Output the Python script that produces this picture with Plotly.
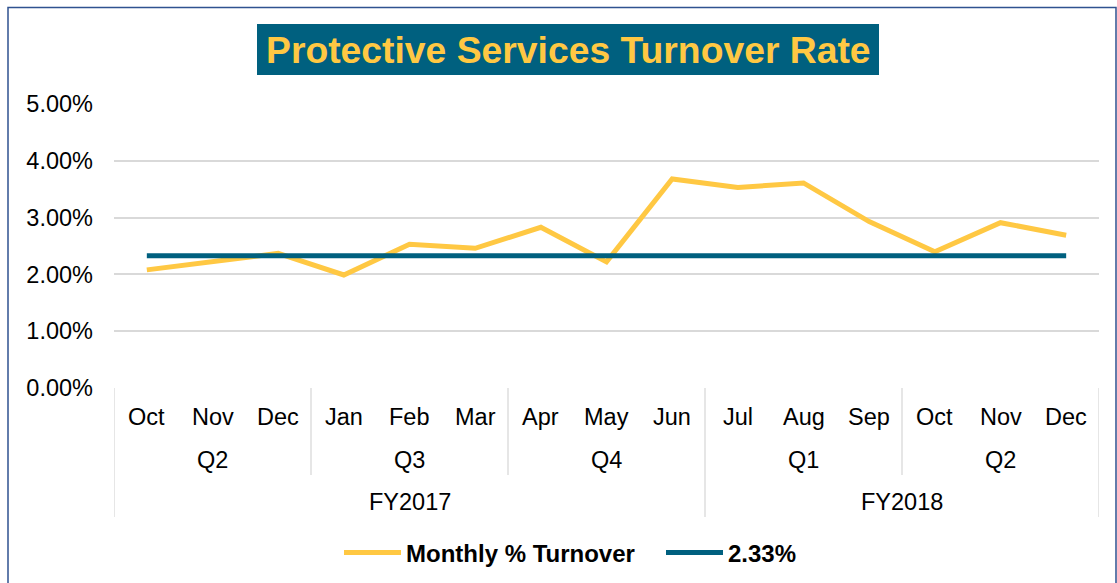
import plotly.graph_objects as go

months = ["Oct", "Nov", "Dec", "Jan", "Feb", "Mar", "Apr", "May", "Jun",
          "Jul", "Aug", "Sep", "Oct", "Nov", "Dec"]
quarters = ["Q2", "Q2", "Q2", "Q3", "Q3", "Q3", "Q4", "Q4", "Q4",
            "Q1", "Q1", "Q1", "Q2", "Q2", "Q2"]
fiscal_years = ["FY2017"] * 9 + ["FY2018"] * 6
turnover = [2.08, 2.22, 2.37, 1.99, 2.53, 2.46, 2.83, 2.22, 3.68,
            3.53, 3.61, 2.93, 2.40, 2.91, 2.69]
average = [2.33] * 15

YELLOW = "#FFC843"
TEAL = "#00607F"
GRID = "#D9D9D9"
FONT = "Liberation Sans, Arial, sans-serif"
AX = 23.5

x = list(range(len(months)))

fig = go.Figure()
fig.add_trace(go.Scatter(x=x, y=turnover, mode="lines", name="<b>Monthly % Turnover</b>",
                         line=dict(color=YELLOW, width=5)))
fig.add_trace(go.Scatter(x=x, y=average, mode="lines", name="<b>2.33%</b>",
                         line=dict(color=TEAL, width=5)))

W, H = 1117, 583
L, R, T, B = 114, 18, 104, 195
pw, ph = W - L - R, H - T - B

def px_x(p):
    return (p - L) / pw

def px_y(p):
    return (H - B - p) / ph

annotations = []
shapes = []

for i, m in enumerate(months):
    annotations.append(dict(x=i, y=px_y(417), xref="x", yref="paper", text=m,
                            showarrow=False, xanchor="center", yanchor="middle",
                            font=dict(size=AX, color="#000000", family=FONT)))

def groups(labels, parent=None):
    out = []
    start = 0
    n = len(labels)
    for i in range(1, n + 1):
        if i == n or labels[i] != labels[start] or (parent is not None and parent[i] != parent[start]):
            out.append((labels[start], start, i - 1))
            start = i
    return out

q_groups = groups(quarters, fiscal_years)
fy_groups = groups(fiscal_years)

for lab, s, e in q_groups:
    annotations.append(dict(x=(s + e) / 2, y=px_y(460), xref="x", yref="paper", text=lab,
                            showarrow=False, xanchor="center", yanchor="middle",
                            font=dict(size=AX, color="#000000", family=FONT)))
for lab, s, e in fy_groups:
    annotations.append(dict(x=(s + e) / 2, y=px_y(502), xref="x", yref="paper", text=lab,
                            showarrow=False, xanchor="center", yanchor="middle",
                            font=dict(size=AX, color="#000000", family=FONT)))

fy_bounds = {-0.5} | {e + 0.5 for _, _, e in fy_groups}
q_bounds = {e + 0.5 for _, _, e in q_groups} - fy_bounds
for b in sorted(fy_bounds):
    shapes.append(dict(type="line", xref="x", yref="paper", x0=b, x1=b,
                       y0=0, y1=px_y(517), line=dict(color=GRID, width=1.3)))
for b in sorted(q_bounds):
    shapes.append(dict(type="line", xref="x", yref="paper", x0=b, x1=b,
                       y0=0, y1=px_y(475), line=dict(color=GRID, width=1.3)))

shapes.append(dict(type="rect", xref="paper", yref="paper",
                   x0=px_x(8), x1=px_x(1116), y0=px_y(586), y1=px_y(7.5),
                   line=dict(color="#2F5290", width=1.5), fillcolor="rgba(0,0,0,0)", layer="below"))

shapes.append(dict(type="rect", xref="paper", yref="paper",
                   x0=px_x(257), x1=px_x(879), y0=px_y(75), y1=px_y(24),
                   line=dict(width=0), fillcolor=TEAL))
annotations.append(dict(x=px_x(568), y=px_y(50), xref="paper", yref="paper",
                        text="<b>Protective Services Turnover Rate</b>", showarrow=False,
                        xanchor="center", yanchor="middle",
                        font=dict(size=37.3, color=YELLOW, family=FONT)))

fig.update_layout(
    width=W, height=H,
    margin=dict(l=L, r=R, t=T, b=B, autoexpand=False),
    paper_bgcolor="white", plot_bgcolor="white",
    showlegend=True,
    legend=dict(orientation="h", x=px_x(661), y=px_y(553), xanchor="center", yanchor="middle",
                font=dict(size=24, color="#000000", family=FONT), itemwidth=57,
                entrywidth=250, traceorder="normal"),
    annotations=annotations,
    shapes=shapes,
    font=dict(family=FONT),
)
fig.update_xaxes(range=[-0.5, 14.5], showticklabels=False, showgrid=False,
                 zeroline=False, showline=False, ticks="")
fig.update_yaxes(range=[0, 5], tickvals=[0, 1, 2, 3, 4, 5],
                 ticktext=["0.00%", "1.00%", "2.00%", "3.00%", "4.00%", "5.00%"],
                 showgrid=True, gridcolor=GRID, gridwidth=1.5, zeroline=False,
                 showline=False, ticklabelstandoff=20,
                 tickfont=dict(size=AX, color="#000000", family=FONT))

fig.write_html("out.html")
